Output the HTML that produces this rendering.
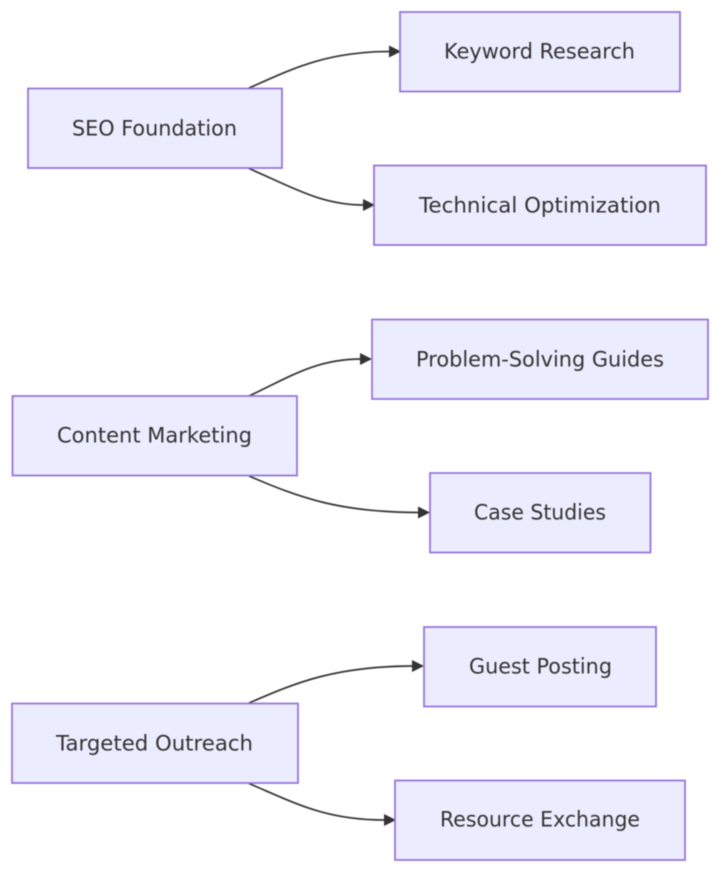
<!DOCTYPE html>
<html><head><meta charset="utf-8"><style>
html,body{margin:0;padding:0;background:#fff}
svg{display:block;filter:blur(0.45px)}
rect{fill:#ECECFF;stroke:#9370DB;stroke-width:1.7}
text{font-family:"DejaVu Sans",sans-serif;font-size:21.6px;fill:#333;text-anchor:start}
path.e{fill:none;stroke:#333;stroke-width:1.7}
path.a{fill:#333;stroke:none}
</style></head><body>
<svg width="720" height="872" viewBox="0 0 720 872" xmlns="http://www.w3.org/2000/svg">
<path class="e" d="M249 88C290 70 325 51.500 390 51.500"/><path class="a" d="M389 45.500L401 51.500L389 57.500Z"/>
<path class="e" d="M249 168.500C290 186 320 205 364 205"/><path class="a" d="M363 199L375 205L363 211Z"/>
<path class="e" d="M249 396C288 378 315 359 361 359"/><path class="a" d="M360 353L372 359L360 365Z"/>
<path class="e" d="M249 476C300 498 340 512.500 420 512.500"/><path class="a" d="M418 506.500L430 512.500L418 518.500Z"/>
<path class="e" d="M249 703C295 683 335 666 414 666"/><path class="a" d="M412 660L424 666L412 672Z"/>
<path class="e" d="M249 783.500C295 803 325 820 385 820"/><path class="a" d="M384 814L396 820L384 826Z"/>
<rect x="28" y="88.500" width="254" height="79.500"/><text x="72" y="135.500" textLength="165" lengthAdjust="spacingAndGlyphs">SEO Foundation</text>
<rect x="400" y="12" width="280" height="79.500"/><text x="444" y="58.500" textLength="191" lengthAdjust="spacingAndGlyphs">Keyword Research</text>
<rect x="374" y="165.500" width="332" height="79.500"/><text x="419" y="212.500" textLength="242" lengthAdjust="spacingAndGlyphs">Technical Optimization</text>
<rect x="12.500" y="396" width="284.500" height="79.500"/><text x="57" y="442.500" textLength="195" lengthAdjust="spacingAndGlyphs">Content Marketing</text>
<rect x="372" y="319.500" width="336" height="79.500"/><text x="416" y="366.500" textLength="248" lengthAdjust="spacingAndGlyphs">Problem-Solving Guides</text>
<rect x="430" y="473" width="220.500" height="79.500"/><text x="474" y="519.500" textLength="132" lengthAdjust="spacingAndGlyphs">Case Studies</text>
<rect x="12" y="703.500" width="286" height="79.500"/><text x="56" y="750.500" textLength="197" lengthAdjust="spacingAndGlyphs">Targeted Outreach</text>
<rect x="424" y="627" width="232" height="79.500"/><text x="469" y="673.500" textLength="143" lengthAdjust="spacingAndGlyphs">Guest Posting</text>
<rect x="395" y="780.500" width="290" height="79.500"/><text x="440" y="826.500" textLength="200" lengthAdjust="spacingAndGlyphs">Resource Exchange</text>
</svg>
</body></html>
